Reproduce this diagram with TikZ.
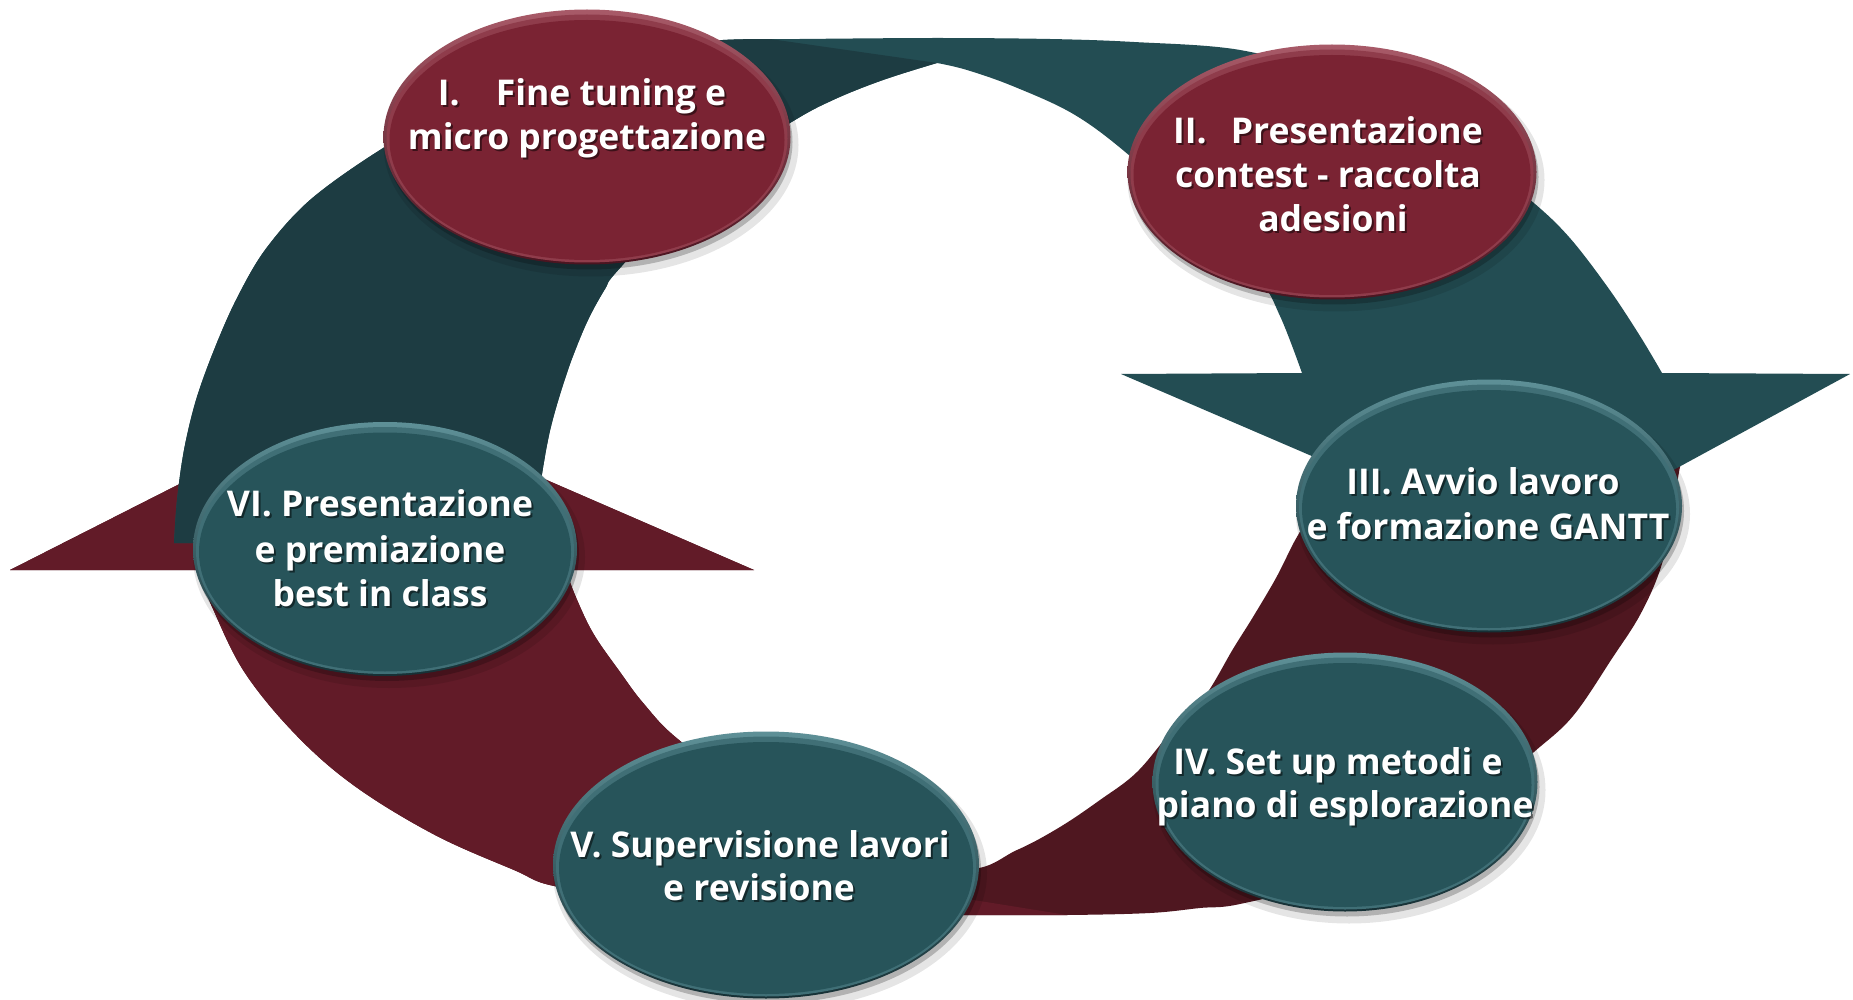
\documentclass[tikz,border=0pt]{standalone}
\usepackage{fontspec}
\setmainfont{Open Sans}
\usetikzlibrary{shapes.geometric}
\definecolor{tealD}{HTML}{1D3C42}
\definecolor{tealL}{HTML}{234D53}
\definecolor{redL}{HTML}{621B28}
\definecolor{redD}{HTML}{4F1720}
\definecolor{rbody}{HTML}{7A2333}
\definecolor{rtop}{HTML}{A85A68}
\definecolor{rbot}{HTML}{4A1420}
\definecolor{tbody}{HTML}{27545A}
\definecolor{ttop}{HTML}{5E9097}
\definecolor{tbot}{HTML}{163035}
\tikzset{
  lbl/.style={anchor=base, inner sep=0pt, text=white, font=\bfseries\fontsize{35.5}{42}\selectfont},
  lblshadow/.style={lbl, text=black, text opacity=.5},
  ballshape/.style={ellipse, inner sep=0pt, draw=none},
}
\newcommand\ball[8]{%
  \fill[black, opacity=.10] (#2+4,#3+8) ellipse [x radius={#4/2+4}, y radius={#5/2+4}];
  \fill[black, opacity=.22] (#2+2,#3+5) ellipse [x radius={#4/2}, y radius={#5/2}];
  \node[ballshape, minimum width=#4pt, minimum height=#5pt, top color=#6, bottom color=#7] (#1) at (#2,#3) {};
  \fill[#6!45!#8] (#2,#3+1.5) ellipse [x radius={#4/2-3}, y radius={#5/2-3.5}];
  \fill[#8] (#2,#3+3) ellipse [x radius={#4/2-6}, y radius={#5/2-7.5}];
}
\newcommand\lbltext[4]{%
  \node[lblshadow] (#1s) at (#2+2,#3+2) {#4};
  \node[lbl] (#1) at (#2,#3) {#4};
}
\def\redpath{(198,570) -- (10,570) -- (353,396) -- (754,570) -- (566,570)
  -- plot[smooth,tension=.6] coordinates {(566,570) (575,595) (593,633) (620,672) (644,704) (679,740) (760,798) (860,845) (965,869) (1017,850) (1060,827) (1100,800) (1137,772) (1174,728) (1205,696) (1233,649) (1253,617) (1276,578) (1292,546) (1308,515) (1330,455)}
  -- (1690,440)
  -- plot[smooth,tension=.6] coordinates {(1690,440) (1680,467) (1672,520) (1660,570) (1640,615) (1613,657) (1573,716) (1534,752) (1490,790) (1420,835) (1330,880) (1240,904) (1200,908) (1150,913) (1067,915) (963,915) (870,914) (760,910) (650,900) (554,886) (514,870) (435,835) (356,787) (297,736) (245,673) (213,609) (198,570)}
  -- cycle}
\def\tealpath{(174,543)
  -- plot[smooth,tension=.55] coordinates {(174,543) (177,500) (184,450) (196,400) (214,350) (236,300) (265,250) (310,200) (380,150) (460,105) (550,70) (645,48) (723,40) (800,39) (937,38) (1050,39) (1134,42) (1240,50) (1340,78) (1440,128) (1528,198) (1569,237) (1609,289) (1640,336) (1662,373)}
  -- (1850,374) -- (1528,549) -- (1121,374) -- (1302,373)
  -- plot[smooth,tension=.6] coordinates {(1302,373) (1280,316) (1257,277) (1190,212) (1130,156) (1075,115) (1015,87) (967,70) (937,63)}
  -- plot[smooth,tension=.6] coordinates {(937,63) (883,80) (833,100) (790,123) (705,178) (620,268) (605,289) (588,320) (573,356) (563,385) (554,415) (548,440) (542,474) (531,543)}
  -- cycle}
\begin{document}
\begin{tikzpicture}[x=1pt,y=-1pt]
\useasboundingbox (0,0) rectangle (1853,1000);
\fill[white] (0,0) rectangle (1853,1000);
% red (lower) circular arrow
\fill[redD] \redpath;
\begin{scope}
  \clip \redpath;
  \fill[redL] (0,0) -- (930,0) -- (930,893) -- (1067,915) -- (1067,1000) -- (0,1000) -- cycle;
\end{scope}
% teal (upper) circular arrow
\fill[tealL] \tealpath;
\begin{scope}
  \clip \tealpath;
  \fill[tealD] (0,0) -- (770,0) -- (770,39) -- (937,63) -- (937,700) -- (0,700) -- cycle;
\end{scope}
% ellipses
\ball{e1}{587}{137}{407}{255}{rtop}{rbot}{rbody}
\ball{e2}{1332}{172}{409}{255}{rtop}{rbot}{rbody}
\ball{e3}{1489}{506}{386}{253}{ttop}{tbot}{tbody}
\ball{e4}{1345}{782}{385}{259}{ttop}{tbot}{tbody}
\ball{e5}{766}{865}{426}{267}{ttop}{tbot}{tbody}
\ball{e6}{385}{549}{384}{254}{ttop}{tbot}{tbody}
% labels
\lbltext{t1a}{582}{106}{I.\hspace{36pt}Fine tuning e}
\lbltext{t1b}{587}{150}{micro progettazione}
\lbltext{t2a}{1328}{144}{II.\hspace{24pt}Presentazione}
\lbltext{t2b}{1328}{188}{contest - raccolta}
\lbltext{t2c}{1333}{232}{adesioni}
\lbltext{t3a}{1483}{494}{III. Avvio lavoro}
\lbltext{t3b}{1488}{539}{e formazione GANTT}
\lbltext{t4a}{1338}{774}{IV. Set up metodi e}
\lbltext{t4b}{1345}{817}{piano di esplorazione}
\lbltext{t5a}{760}{857}{V. Supervisione lavori}
\lbltext{t5b}{759}{900}{e revisione}
\lbltext{t6a}{380}{516}{VI. Presentazione}
\lbltext{t6b}{380}{562}{e premiazione}
\lbltext{t6c}{380}{606}{best in class}
\end{tikzpicture}
\end{document}
